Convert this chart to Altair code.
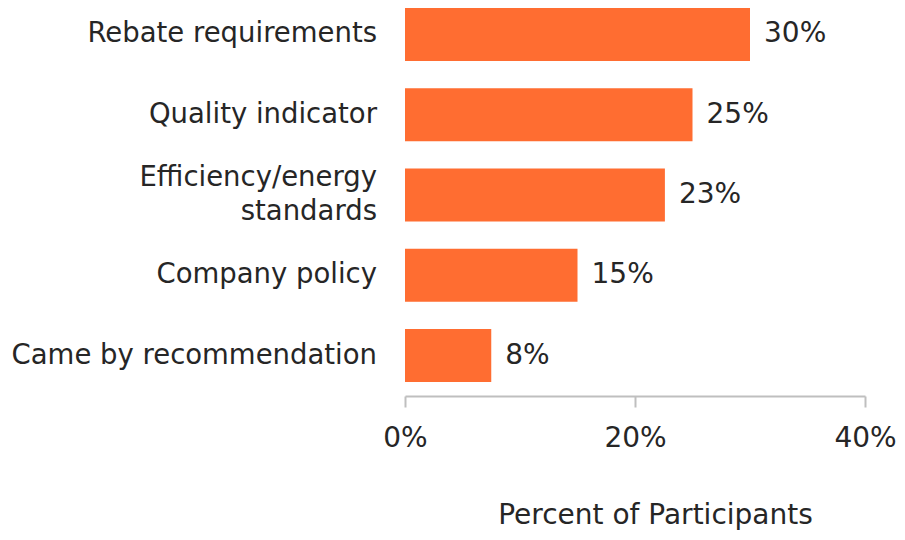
import altair as alt
import pandas as pd

categories = ["Rebate requirements", "Quality indicator", "Efficiency/energy\nstandards",
              "Company policy", "Came by recommendation"]
values = [30.0, 25.0, 22.6, 15.0, 7.5]
labels = ["30%", "25%", "23%", "15%", "8%"]

df = pd.DataFrame({"cat": categories, "val": values, "lab": labels})

FONT = "DejaVu Sans"
TXT = "#262626"
FS = 28
FSY = 27.5
LH = 34

y = alt.Y("cat:N", sort=categories, title=None,
          scale=alt.Scale(paddingInner=0.34, paddingOuter=0),
          axis=None)

x = alt.X("val:Q", title="Percent of Participants",
          scale=alt.Scale(domain=[0, 40], nice=False),
          axis=alt.Axis(values=[0, 20, 40], labelExpr="datum.value + '%'", grid=False,
                        offset=14, domainColor="#bfbfbf", domainWidth=2, tickColor="#bfbfbf",
                        tickWidth=2, tickSize=11, labelPadding=17, labelFont=FONT,
                        labelFlush=False, labelOverlap=False,
                        labelFontSize=FS, labelColor=TXT, titleFont=FONT, titleFontSize=FS,
                        titleFontWeight="normal", titleColor=TXT, titleX=250, titleY=127,
                        titleAlign="center", titleBaseline="alphabetic"))

base = alt.Chart(df)
bars = base.mark_bar(color="#FF6D31").encode(x=x, y=y)
text = base.mark_text(align="left", baseline="middle", dx=14, font=FONT,
                      fontSize=FS, color=TXT).encode(
    x=alt.X("val:Q"), y=alt.Y("cat:N", sort=categories), text="lab:N")

ysort = alt.Y("cat:N", sort=categories)
single = base.transform_filter("indexof(datum.cat, '\\n') < 0").mark_text(
    align="right", baseline="middle", font=FONT, fontSize=FSY, color=TXT).encode(
    x=alt.value(-28), y=ysort, text="cat:N")
multi = base.transform_filter("indexof(datum.cat, '\\n') >= 0").transform_calculate(
    lines="split(datum.cat, '\\n')").mark_text(
    align="right", baseline="middle", font=FONT, fontSize=FSY, color=TXT,
    lineHeight=LH, dy=-LH / 2).encode(
    x=alt.value(-28), y=ysort, text="lines:N")

chart = (bars + text + single + multi).properties(
    width=460, height=374,
    autosize=alt.AutoSizeParams(type="none"),
    padding={"left": 397, "top": 0, "right": 32, "bottom": 150},
).configure_view(stroke=None)

chart.save("out.html", embed_options={"renderer": "svg", "actions": False})
